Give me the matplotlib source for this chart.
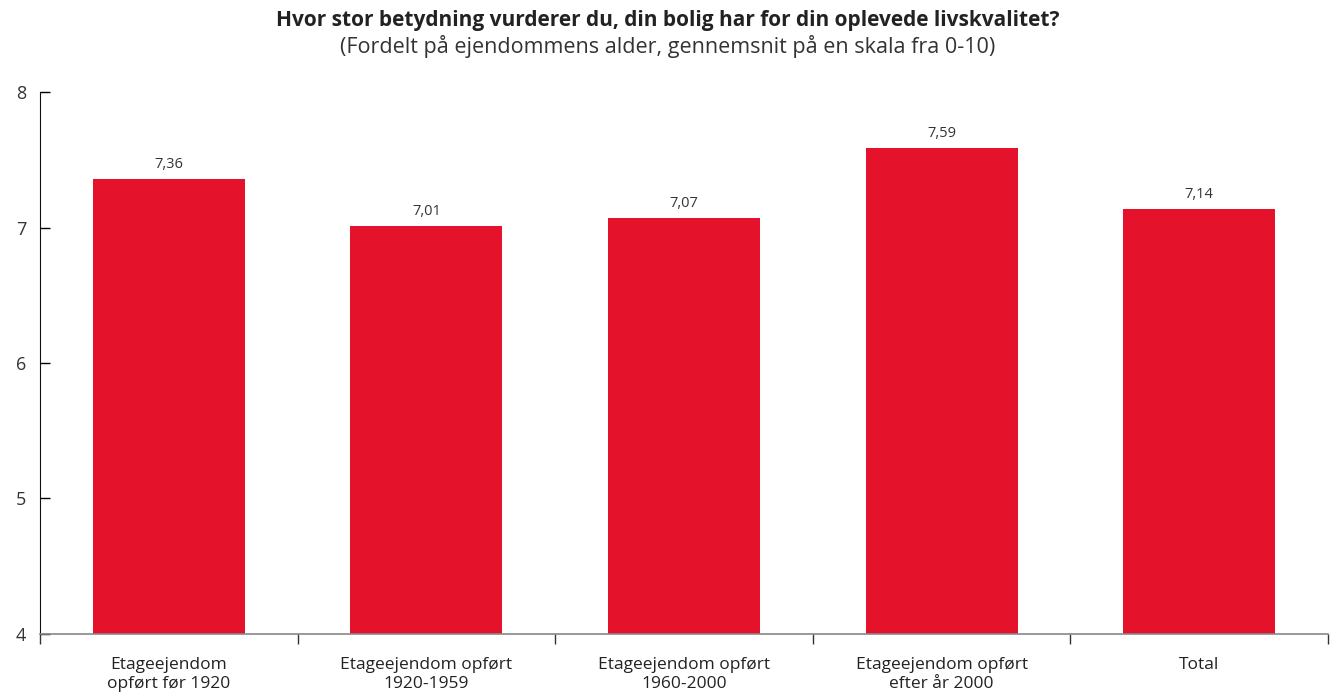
import numpy as np
import matplotlib.pyplot as plt

# mean score (0-10 scale) by building age
categories = ["Etageejendom\nopført før 1920", "Etageejendom opført\n1920-1959",
              "Etageejendom opført\n1960-2000", "Etageejendom opført\nefter år 2000", "Total"]
values = [7.36, 7.01, 7.07, 7.59, 7.14]
yticks = [4, 5, 6, 7, 8]

plt.rcParams['font.family'] = ['Open Sans', 'DejaVu Sans']

fig = plt.figure(figsize=(13.36, 6.98), dpi=100)
ax = fig.add_axes([0.030, 0.092, 0.964, 0.776])

x = np.arange(len(categories))
ax.bar(x, values, width=0.59, color="#E4132B", zorder=2)
for xi, v in zip(x, values):
    ax.text(xi, v + 0.05, f"{v:.2f}".replace(".", ","), ha="center", va="bottom",
            fontsize=10.5, color="#333333")

ax.set_xlim(-0.5, len(categories) - 0.5)
ax.set_ylim(4, 8)
ax.set_yticks(yticks)
ax.set_yticklabels([str(t) for t in yticks], fontsize=13, color="#333333")
ax.tick_params(axis="y", direction="in", length=7, width=1, pad=10)

ax.set_xticks(x)
ax.set_xticklabels(categories, fontsize=12.5, color="#222222", linespacing=1.25)
ax.tick_params(axis="x", which="major", length=0, pad=17)
ax.set_xticks(np.arange(len(categories) + 1) - 0.5, minor=True)
ax.tick_params(axis="x", which="minor", direction="out", length=7, width=1, color="#333333")

for side in ["top", "right"]:
    ax.spines[side].set_visible(False)
ax.spines["bottom"].set_color("#888888")
ax.spines["bottom"].set_linewidth(1.2)
ax.spines["left"].set_color("#111111")

fig.text(0.5, 0.970, "Hvor stor betydning vurderer du, din bolig har for din oplevede livskvalitet?",
         ha="center", va="center", fontsize=15, fontweight="bold", color="#222222")
fig.text(0.5, 0.934, "(Fordelt på ejendommens alder, gennemsnit på en skala fra 0-10)",
         ha="center", va="center", fontsize=15.5, color="#333333")

fig.savefig("out.png", dpi=100)
